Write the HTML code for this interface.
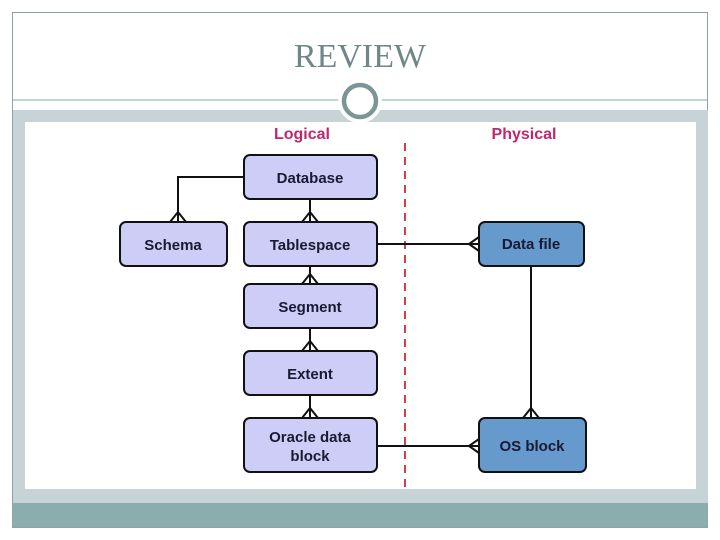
<!DOCTYPE html>
<html><head><style>
html,body{margin:0;padding:0;background:#fff;}
svg{display:block;}
</style></head><body>
<svg width="720" height="540" viewBox="0 0 720 540" xmlns="http://www.w3.org/2000/svg">
<rect x="0" y="0" width="720" height="540" fill="#fff"/>
<rect x="12.5" y="12.5" width="695" height="515" fill="none" stroke="#8fa3a5" stroke-width="1"/>
<text x="360" y="67" text-anchor="middle" font-family="Liberation Serif, serif" font-size="34" fill="#6f8787" textLength="132" lengthAdjust="spacingAndGlyphs">REVIEW</text>
<rect x="13" y="110" width="695" height="393" fill="#c8d3d8"/>
<rect x="25" y="122" width="671" height="367" fill="#fff"/>
<rect x="13" y="503" width="695" height="24" fill="#8cadad"/>
<line x1="12" y1="100" x2="708" y2="100" stroke="#8fa3a5" stroke-width="1"/>
<circle cx="360" cy="101" r="22" fill="#fff"/>
<circle cx="360" cy="101" r="16" fill="#fff" stroke="#7d9596" stroke-width="4.5"/>
<text x="302" y="139" text-anchor="middle" font-family="Liberation Sans, sans-serif" font-weight="bold" font-size="16" fill="#c0266e">Logical</text>
<text x="524" y="139" text-anchor="middle" font-family="Liberation Sans, sans-serif" font-weight="bold" font-size="16" fill="#c0266e">Physical</text>
<line x1="405" y1="143" x2="405" y2="489" stroke="#d0424a" stroke-width="2" stroke-dasharray="8,6"/>
<g stroke="#111" stroke-width="2" fill="none">
<polyline points="244,177 178,177 178,222"/>
<line x1="178" y1="212" x2="170" y2="222"/><line x1="178" y1="212" x2="186" y2="222"/>
<line x1="310" y1="199" x2="310" y2="222"/>
<line x1="310" y1="212" x2="302" y2="222"/><line x1="310" y1="212" x2="318" y2="222"/>
<line x1="310" y1="266" x2="310" y2="284"/>
<line x1="310" y1="274" x2="302" y2="284"/><line x1="310" y1="274" x2="318" y2="284"/>
<line x1="310" y1="328" x2="310" y2="351"/>
<line x1="310" y1="341" x2="302" y2="351"/><line x1="310" y1="341" x2="318" y2="351"/>
<line x1="310" y1="395" x2="310" y2="418"/>
<line x1="310" y1="408" x2="302" y2="418"/><line x1="310" y1="408" x2="318" y2="418"/>
<line x1="377" y1="244" x2="479" y2="244"/>
<line x1="469" y1="244" x2="479" y2="237"/><line x1="469" y1="244" x2="479" y2="251"/>
<line x1="377" y1="446" x2="479" y2="446"/>
<line x1="469" y1="446" x2="479" y2="439"/><line x1="469" y1="446" x2="479" y2="453"/>
<line x1="531" y1="266" x2="531" y2="418"/>
<line x1="531" y1="408" x2="523" y2="418"/><line x1="531" y1="408" x2="539" y2="418"/>
</g>
<g stroke="#111" stroke-width="2">
<rect x="244" y="155" width="133" height="44" rx="6" fill="#cdcdf7"/>
<rect x="120" y="222" width="107" height="44" rx="6" fill="#cdcdf7"/>
<rect x="244" y="222" width="133" height="44" rx="6" fill="#cdcdf7"/>
<rect x="244" y="284" width="133" height="44" rx="6" fill="#cdcdf7"/>
<rect x="244" y="351" width="133" height="44" rx="6" fill="#cdcdf7"/>
<rect x="244" y="418" width="133" height="54" rx="6" fill="#cdcdf7"/>
<rect x="479" y="222" width="105" height="44" rx="6" fill="#6699cc"/>
<rect x="479" y="418" width="107" height="54" rx="6" fill="#6699cc"/>
</g>
<g font-family="Liberation Sans, sans-serif" font-weight="bold" font-size="15" fill="#1a1a33" text-anchor="middle">
<text x="310" y="183">Database</text>
<text x="173" y="250">Schema</text>
<text x="310" y="250">Tablespace</text>
<text x="310" y="312">Segment</text>
<text x="310" y="379">Extent</text>
<text x="310" y="442">Oracle data</text>
<text x="310" y="461">block</text>
<text x="531" y="249">Data file</text>
<text x="532" y="451">OS block</text>
</g>
</svg>
</body></html>
